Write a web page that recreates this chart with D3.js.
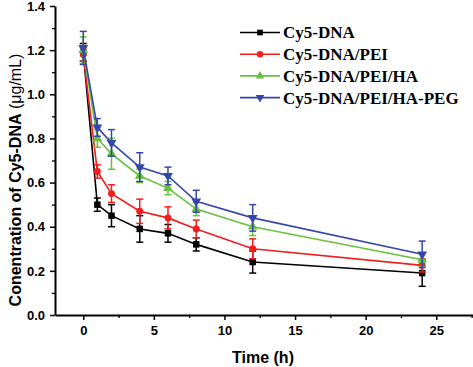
<!DOCTYPE html>
<html>
<head>
<meta charset="utf-8">
<script src="https://cdn.jsdelivr.net/npm/d3@7"></script>
<style>
  body { margin: 0; background: #fff; }
</style>
</head>
<body>
<script>
// data
const times = [0, 1, 2, 4, 6, 8, 12, 24];
const seriesNames = ["Cy5-DNA", "Cy5-DNA/PEI", "Cy5-DNA/PEI/HA", "Cy5-DNA/PEI/HA-PEG"];
const dnaVals    = [1.19, 0.50, 0.45, 0.39, 0.37, 0.32, 0.24, 0.19];
const dnaErr     = [0.04, 0.03, 0.05, 0.06, 0.04, 0.03, 0.05, 0.06];
const peiVals    = [1.18, 0.65, 0.55, 0.47, 0.44, 0.39, 0.30, 0.225];
const peiErr     = [0.03, 0.03, 0.04, 0.055, 0.05, 0.04, 0.045, 0.03];
const haVals     = [1.20, 0.80, 0.73, 0.63, 0.575, 0.48, 0.40, 0.25];
const haErr      = [0.06, 0.04, 0.07, 0.03, 0.03, 0.03, 0.04, 0.03];
const pegVals    = [1.21, 0.85, 0.78, 0.67, 0.63, 0.515, 0.44, 0.275];
const pegErr     = [0.075, 0.04, 0.06, 0.065, 0.04, 0.05, 0.06, 0.06];
const xTicks = [0, 5, 10, 15, 20, 25];
const yTicks = [0.0, 0.2, 0.4, 0.6, 0.8, 1.0, 1.2, 1.4];

const colors = ["#000000", "#f01e1e", "#66c23c", "#3447a8"];
const symbols = [d3.symbolSquare, d3.symbolCircle, d3.symbolTriangle, "down"];

const series = [dnaVals, peiVals, haVals, pegVals].map((vals, i) => ({
  name: seriesNames[i],
  color: colors[i],
  symbol: symbols[i],
  points: times.map((t, j) => ({t: t, v: vals[j], e: [dnaErr, peiErr, haErr, pegErr][i][j]}))
}));

const canvWidth = 473, canvHeight = 367;
const svg = d3.select("body").append("svg")
    .attr("width", canvWidth)
    .attr("height", canvHeight);

const xScale = d3.scaleLinear().domain([-2, 27.6]).range([55, 473]);
const yScale = d3.scaleLinear().domain([0, 1.4]).range([315, 6]);

// minor ticks
svg.append("g")
    .attr("transform", "translate(0,315)")
    .call(d3.axisBottom(xScale).tickValues(d3.range(2.5, 28, 5)).tickSize(3).tickFormat(""))
    .call(g => g.select(".domain").remove())
    .selectAll("line").attr("stroke-width", 1.3);
svg.append("g")
    .attr("transform", "translate(55,0)")
    .call(d3.axisLeft(yScale).tickValues(d3.range(0.1, 1.4, 0.2)).tickSize(3).tickFormat(""))
    .call(g => g.select(".domain").remove())
    .selectAll("line").attr("stroke-width", 1.3);

// x axis
const xAxis = svg.append("g")
    .attr("transform", "translate(0,315)")
    .call(d3.axisBottom(xScale).tickValues(xTicks).tickSize(5).tickSizeOuter(0).tickPadding(6));
xAxis.select(".domain").attr("stroke-width", 2);
xAxis.selectAll("line").attr("stroke-width", 1.5);
xAxis.selectAll("text")
    .attr("font-family", "Liberation Sans, Arial, sans-serif")
    .attr("font-weight", "bold")
    .attr("font-size", "13px")
    .attr("fill", "#000");

// y axis
const yAxis = svg.append("g")
    .attr("transform", "translate(55,0)")
    .call(d3.axisLeft(yScale).tickValues(yTicks).tickSize(5).tickSizeOuter(0).tickPadding(5).tickFormat(d3.format(".1f")));
yAxis.select(".domain").attr("stroke-width", 2);
yAxis.selectAll("line").attr("stroke-width", 1.5);
yAxis.selectAll("text")
    .attr("font-family", "Liberation Sans, Arial, sans-serif")
    .attr("font-weight", "bold")
    .attr("font-size", "13px")
    .attr("fill", "#000");

function symPath(s, size) {
  if (s === "down") return d3.symbol().type(d3.symbolTriangle).size(size)();
  return d3.symbol().type(s).size(size)();
}

const line = d3.line().x(d => xScale(d.t)).y(d => yScale(d.v));

series.forEach(s => {
  const g = svg.append("g");
  g.append("path")
      .datum(s.points)
      .attr("d", line)
      .attr("fill", "none")
      .attr("stroke", s.color)
      .attr("stroke-width", 1.6);

  // error bars
  const eb = g.selectAll(".err").data(s.points).enter().append("g")
      .attr("stroke", s.color)
      .attr("stroke-width", 1.5);
  eb.append("line")
      .attr("x1", d => xScale(d.t)).attr("x2", d => xScale(d.t))
      .attr("y1", d => yScale(d.v - d.e)).attr("y2", d => yScale(d.v + d.e));
  eb.append("line")
      .attr("x1", d => xScale(d.t) - 3.5).attr("x2", d => xScale(d.t) + 3.5)
      .attr("y1", d => yScale(d.v + d.e)).attr("y2", d => yScale(d.v + d.e));
  eb.append("line")
      .attr("x1", d => xScale(d.t) - 3.5).attr("x2", d => xScale(d.t) + 3.5)
      .attr("y1", d => yScale(d.v - d.e)).attr("y2", d => yScale(d.v - d.e));

  // markers
  g.selectAll(".mk").data(s.points).enter().append("path")
      .attr("d", symPath(s.symbol, s.symbol === d3.symbolCircle ? 38 : 42))
      .attr("transform", d => "translate(" + xScale(d.t) + "," + yScale(d.v) + ")" + (s.symbol === "down" ? " rotate(180)" : ""))
      .attr("fill", s.color);
});

// legend
const legend = svg.append("g").attr("transform", "translate(240,32.5)");
series.forEach((s, i) => {
  const row = legend.append("g").attr("transform", "translate(0," + (i * 21.7) + ")");
  row.append("line")
      .attr("x1", 0).attr("x2", 40)
      .attr("stroke", s.color)
      .attr("stroke-width", 1.6);
  row.append("path")
      .attr("d", symPath(s.symbol, 32))
      .attr("transform", "translate(20,0)" + (s.symbol === "down" ? " rotate(180)" : ""))
      .attr("fill", s.color);
  row.append("text")
      .attr("x", 43)
      .attr("y", 0)
      .attr("dy", "0.35em")
      .attr("font-family", "Liberation Serif, Times New Roman, serif")
      .attr("font-weight", "bold")
      .attr("font-size", "17px")
      .text(s.name);
});

// text label for the x axis
svg.append("text")
    .attr("x", 263)
    .attr("y", 363)
    .attr("font-family", "Liberation Sans, Arial, sans-serif")
    .attr("font-weight", "bold")
    .attr("font-size", "16px")
    .style("text-anchor", "middle")
    .text("Time  (h)");

// text label for the y axis
const yl = svg.append("text")
    .attr("transform", "translate(21,180) rotate(-90)")
    .attr("font-family", "Liberation Sans, Arial, sans-serif")
    .attr("font-size", "16px")
    .style("text-anchor", "middle");
yl.append("tspan").attr("font-weight", "bold").text("Conentration of Cy5-DNA");
yl.append("tspan").attr("font-weight", "normal").text("  (\u03bcg/mL)");
</script>
</body>
</html>
